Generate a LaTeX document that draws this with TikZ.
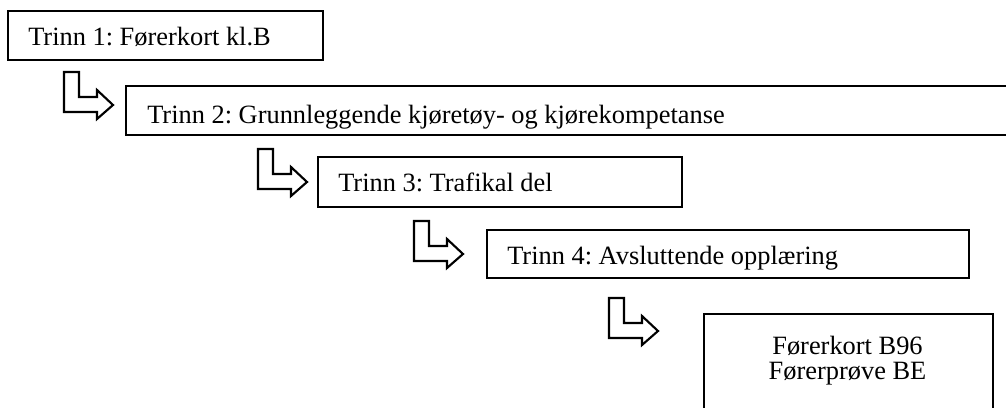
\documentclass[tikz,border=0pt]{standalone}
\usepackage{fontspec}
\setmainfont{Liberation Serif}
\frenchspacing
\begin{document}
\begin{tikzpicture}[x=0.75pt,y=-0.75pt,
  box/.style={draw=black, line width=1.5pt, fill=white, inner sep=0pt, anchor=north west},
  lbl/.style={inner sep=0pt, anchor=base west, font=\fontsize{19.8pt}{17.25pt}\selectfont},
  clbl/.style={inner sep=0pt, anchor=base, font=\fontsize{19.8pt}{17.25pt}\selectfont},
  larrow/.pic={\draw[line width=1.6pt, line join=miter, fill=white]
    (0,0) -- (15,0) -- (15,25) -- (33,25) -- (33,18) -- (49,33) -- (33,47) -- (33,40) -- (0,40) -- cycle;}]
\useasboundingbox (0,0) rectangle (1006,407);
% boxes
\node[box, minimum width=236.25pt, minimum height=36.75pt] (b1) at (7,10) {};
\node[box, minimum width=671.25pt, minimum height=36.75pt] (b2) at (125,85) {};
\node[box, minimum width=273pt, minimum height=37.5pt] (b3) at (317,156) {};
\node[box, minimum width=361.5pt, minimum height=36pt] (b4) at (486,229) {};
\node[box, minimum width=216.75pt, minimum height=87.75pt] (b5) at (703,313) {};
% texts
\node[lbl] (t1) at (28,45) {Trinn 1: Førerkort kl.B};
\node[lbl] (t2) at (147,123) {Trinn 2: Grunnleggende kjøretøy- og kjørekompetanse};
\node[lbl] (t3) at (338,191) {Trinn 3: Trafikal del};
\node[lbl] (t4) at (507,264) {Trinn 4: Avsluttende opplæring};
\node[clbl] (t5a) at (847.5,354) {Førerkort B96};
\node[clbl] (t5b) at (847.5,379) {Førerprøve BE};
% L-shaped arrows
\pic (a1) at (64,72) {larrow};
\pic (a2) at (258,149) {larrow};
\pic (a3) at (414,221) {larrow};
\pic (a4) at (609,298) {larrow};
\end{tikzpicture}
\end{document}
